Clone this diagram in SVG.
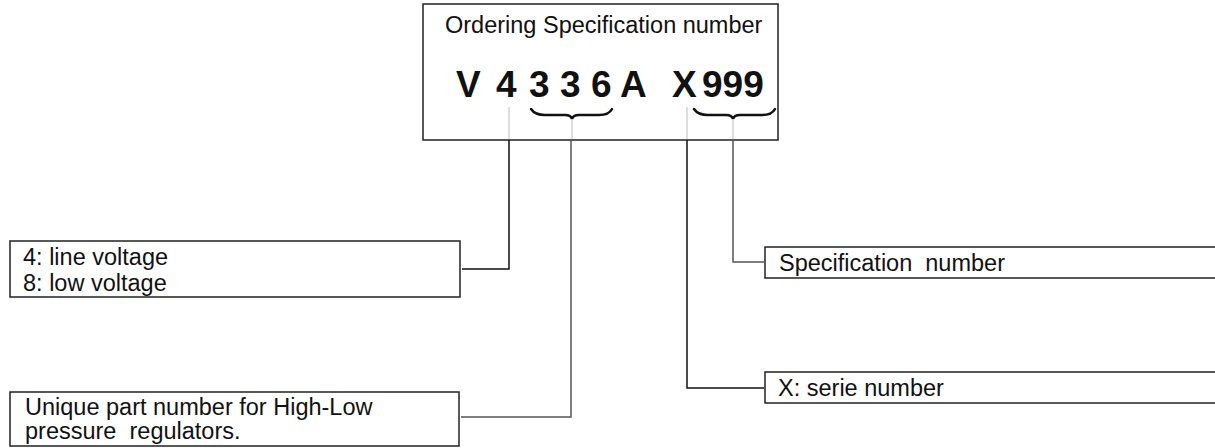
<svg xmlns="http://www.w3.org/2000/svg" width="1215" height="448" viewBox="0 0 1215 448">
<style>
.box{fill:#fff;stroke:#222;stroke-width:1.5}
.t{font-family:"Liberation Sans",Arial,sans-serif;font-size:23.5px;fill:#111}
.code{font-family:"Liberation Sans",Arial,sans-serif;font-size:37px;font-weight:bold;fill:#111}
.c{fill:none;stroke:#111;stroke-width:1.5}
.cg{fill:none;stroke:#555;stroke-width:1.5}
.tick{fill:none;stroke:#c8c8c8;stroke-width:1.2}
.brace{fill:none;stroke:#111;stroke-width:2.5;stroke-linecap:round}
</style>
<rect width="1215" height="448" fill="#fff"/>
<g id="spec">
<rect class="box" x="423" y="4" width="355" height="136"/>
<text class="t" x="445" y="33">Ordering Specification number</text>
<text class="code" y="97"><tspan x="456">V</tspan><tspan x="496">4</tspan><tspan x="529">3</tspan><tspan x="560">3</tspan><tspan x="591">6</tspan><tspan x="620">A</tspan><tspan x="672">X</tspan><tspan x="702">999</tspan></text>
<path class="brace" d="M531,109 Q535,115 545,115 L565,115 Q571,115 572,119 Q573,115 579,115 L599,115 Q609,115 612,109"/>
<path class="brace" d="M694,109 Q698,115 708,115 L726,115 Q732,115 733,119 Q734,115 740,115 L762,115 Q772,115 775,109"/>
<line class="tick" x1="509" y1="107" x2="509" y2="139"/>
<line class="tick" x1="572" y1="120" x2="572" y2="139"/>
<line class="tick" x1="687" y1="107" x2="687" y2="139"/>
<line class="tick" x1="733" y1="120" x2="733" y2="139"/>
</g>
<g id="voltage">
<rect class="box" x="10" y="241" width="450" height="56"/>
<text class="t" x="23" y="265">4: line voltage</text>
<text class="t" x="23" y="291">8: low voltage</text>
</g>
<g id="unique">
<rect class="box" x="10" y="392" width="449" height="54"/>
<text class="t" x="25" y="415">Unique part number for High‑Low</text>
<text class="t" x="25" y="439" xml:space="preserve">pressure  regulators.</text>
</g>
<g id="specnum">
<rect class="box" x="765" y="247" width="460" height="31"/>
<text class="t" x="779" y="271" xml:space="preserve">Specification  number</text>
</g>
<g id="serie">
<rect class="box" x="765" y="372" width="460" height="31"/>
<text class="t" x="778" y="396">X: serie number</text>
</g>
<g id="connectors">
<polyline class="c" points="509,140 509,269 462,269"/>
<polyline class="cg" points="571,140 571,417 461,417"/>
<polyline class="c" points="687,140 687,388 764,388"/>
<polyline class="cg" points="733,140 733,262 764,262"/>
</g>
</svg>
